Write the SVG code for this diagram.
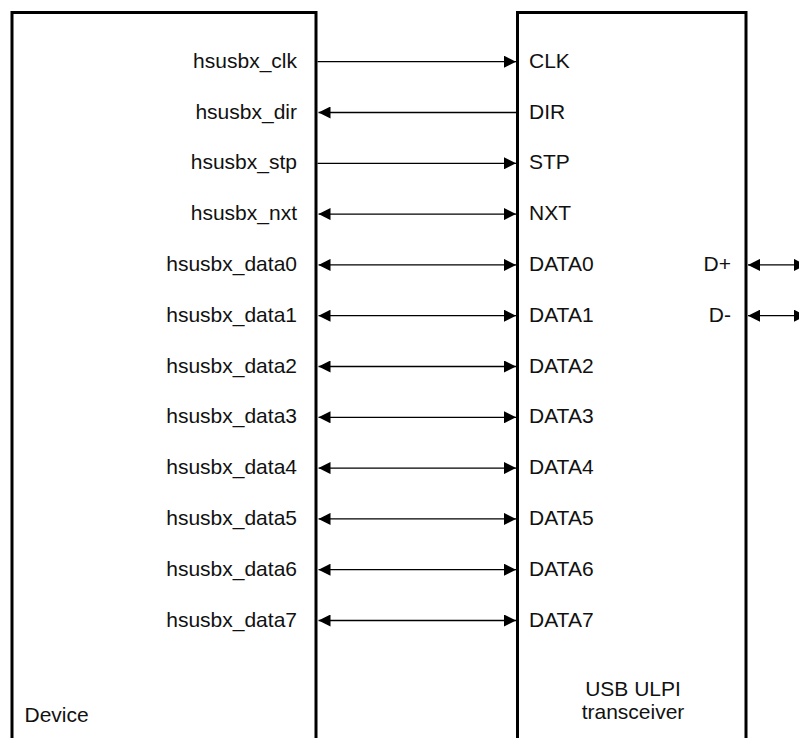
<svg xmlns="http://www.w3.org/2000/svg" width="799" height="738" viewBox="0 0 799 738">
<style>
.box{fill:none;stroke:#000;stroke-width:3}
.wire{fill:none;stroke:#000;stroke-width:1.3}
text{font-family:"Liberation Sans",Arial,sans-serif;font-size:21px;fill:#111}
.r{text-anchor:end}
.m{text-anchor:middle}
</style>
<defs>
<marker id="ah" markerUnits="userSpaceOnUse" markerWidth="12" markerHeight="12" viewBox="0 0 12 12" refX="12" refY="6" orient="auto-start-reverse">
<path d="M0,0 L12,6 L0,12 z" fill="#000"/>
</marker>
</defs>
<rect width="799" height="738" fill="#fff"/>
<g id="device">
<path class="box" d="M12,745 V12.5 H316 V745"/>
<text x="24.5" y="721.7">Device</text>
<text class="r" x="297" y="67.7">hsusbx_clk</text>
<text class="r" x="297" y="118.5">hsusbx_dir</text>
<text class="r" x="297" y="169.3">hsusbx_stp</text>
<text class="r" x="297" y="220.1">hsusbx_nxt</text>
<text class="r" x="297" y="270.9">hsusbx_data0</text>
<text class="r" x="297" y="321.7">hsusbx_data1</text>
<text class="r" x="297" y="372.5">hsusbx_data2</text>
<text class="r" x="297" y="423.3">hsusbx_data3</text>
<text class="r" x="297" y="474.1">hsusbx_data4</text>
<text class="r" x="297" y="524.9">hsusbx_data5</text>
<text class="r" x="297" y="575.7">hsusbx_data6</text>
<text class="r" x="297" y="626.5">hsusbx_data7</text>
</g>
<g id="transceiver">
<path class="box" d="M517.5,745 V12.5 H746 V745"/>
<text x="529" y="67.7">CLK</text>
<text x="529" y="118.5">DIR</text>
<text x="529" y="169.3">STP</text>
<text x="529" y="220.1">NXT</text>
<text x="529" y="270.9">DATA0</text>
<text x="529" y="321.7">DATA1</text>
<text x="529" y="372.5">DATA2</text>
<text x="529" y="423.3">DATA3</text>
<text x="529" y="474.1">DATA4</text>
<text x="529" y="524.9">DATA5</text>
<text x="529" y="575.7">DATA6</text>
<text x="529" y="626.5">DATA7</text>
<text class="r" x="731" y="270.9">D+</text>
<text class="r" x="731" y="321.7">D-</text>
<text class="m" x="633" y="696">USB ULPI</text>
<text class="m" x="633" y="719.3">transceiver</text>
</g>
<g id="connectors">
<path class="wire" d="M317.5,61.7 H516" marker-end="url(#ah)"/>
<path class="wire" d="M516,112.5 H318.5" marker-end="url(#ah)"/>
<path class="wire" d="M317.5,163.3 H516" marker-end="url(#ah)"/>
<path class="wire" d="M318.5,214.1 H516" marker-start="url(#ah)" marker-end="url(#ah)"/>
<path class="wire" d="M318.5,264.9 H516" marker-start="url(#ah)" marker-end="url(#ah)"/>
<path class="wire" d="M318.5,315.7 H516" marker-start="url(#ah)" marker-end="url(#ah)"/>
<path class="wire" d="M318.5,366.5 H516" marker-start="url(#ah)" marker-end="url(#ah)"/>
<path class="wire" d="M318.5,417.3 H516" marker-start="url(#ah)" marker-end="url(#ah)"/>
<path class="wire" d="M318.5,468.1 H516" marker-start="url(#ah)" marker-end="url(#ah)"/>
<path class="wire" d="M318.5,518.9 H516" marker-start="url(#ah)" marker-end="url(#ah)"/>
<path class="wire" d="M318.5,569.7 H516" marker-start="url(#ah)" marker-end="url(#ah)"/>
<path class="wire" d="M318.5,620.5 H516" marker-start="url(#ah)" marker-end="url(#ah)"/>
<path class="wire" d="M748,264.9 H806" marker-start="url(#ah)" marker-end="url(#ah)"/>
<path class="wire" d="M748,315.7 H806" marker-start="url(#ah)" marker-end="url(#ah)"/>
</g>
</svg>
